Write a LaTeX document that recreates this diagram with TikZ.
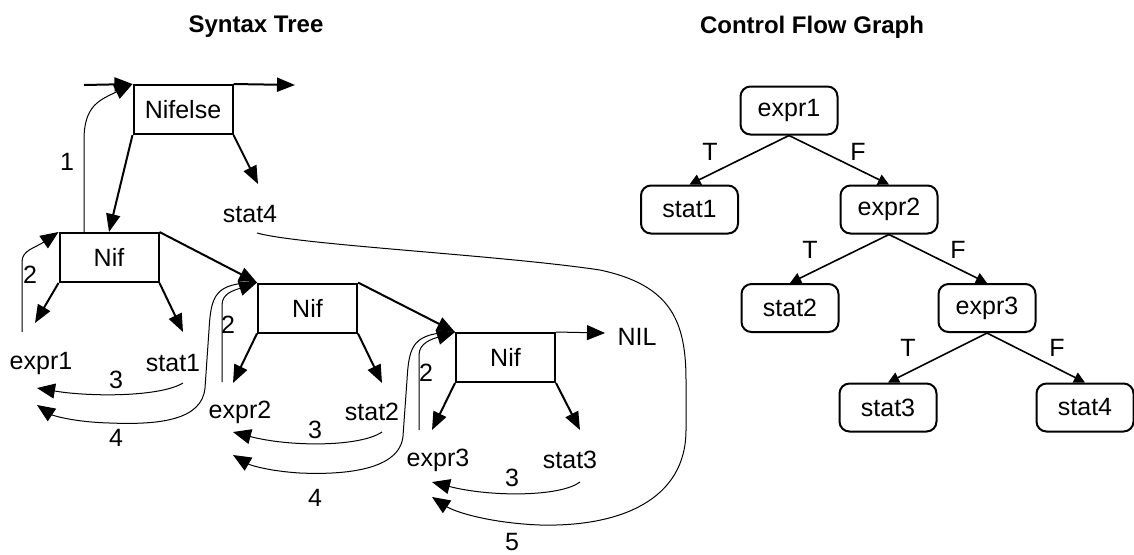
\documentclass[tikz,border=0pt]{standalone}
\usepackage{fontspec}
\setmainfont{Liberation Sans}
\usetikzlibrary{arrows.meta}

\tikzset{
    every node/.style={font=\fontsize{12.5}{14}\selectfont},
    title/.style={font=\fontsize{12}{14}\selectfont\bfseries},
    astbox/.style={draw, line width=1pt, minimum width=49.5pt, minimum height=24.5pt, inner sep=0pt},
    cfgbox/.style={draw, line width=1pt, rounded corners=5pt, minimum width=48.5pt, minimum height=24pt, inner sep=0pt},
    child/.style={line width=1pt, -{Triangle[length=9pt, width=7pt]}},
    walk/.style={line width=0.5pt, -{Triangle[length=9pt, width=7.5pt]}},
    branch/.style={line width=0.8pt, -{Triangle[length=5.5pt, width=5.5pt]}}
}

\begin{document}
\begin{tikzpicture}[x=0.5pt, y=-0.5pt]
        \useasboundingbox (0, 0) rectangle (1134, 554);

        \node[title] (ttree) at (256, 27) {Syntax Tree};
        \node[title] (tcfg) at (812, 27) {Control Flow Graph};

        \node[astbox] (nifelse) at (183, 109.5) {Nifelse};
        \node[astbox] (nif1) at (109, 257.5) {Nif};
        \node[astbox] (nif2) at (307.5, 308) {Nif};
        \node[astbox] (nif3) at (505.5, 357.5) {Nif};

        \node (stat4t) at (250, 214) {stat4};
        \node (expr1t) at (41, 363) {expr1};
        \node (stat1t) at (173, 363) {stat1};
        \node (expr2t) at (240, 412) {expr2};
        \node (stat2t) at (372, 412) {stat2};
        \node (expr3t) at (438, 460) {expr3};
        \node (stat3t) at (570, 460) {stat3};
        \node (nil) at (637, 337) {NIL};

        \coordinate (in) at (84, 85);
        \coordinate (out) at (295, 85);
        \coordinate (s4tip) at (258, 184);
        \coordinate (e1tip) at (35, 323);
        \coordinate (s1tip) at (183, 332);
        \coordinate (e2tip) at (233, 383);
        \coordinate (s2tip) at (382, 383);
        \coordinate (e3tip) at (432, 430);
        \coordinate (s3tip) at (580, 430);
        \coordinate (niltip) at (605, 333);

        \draw[child] (in) -- (nifelse.north west);
        \draw[child] (nifelse.north east) -- (out);
        \draw[child] (nifelse.south west) -- (nif1.north);
        \draw[child] (nifelse.south east) -- (s4tip);
        \draw[child] (nif1.south west) -- (e1tip);
        \draw[child] (nif1.south east) -- (s1tip);
        \draw[child] (nif1.north east) -- (nif2.north west);
        \draw[child] (nif2.south west) -- (e2tip);
        \draw[child] (nif2.south east) -- (s2tip);
        \draw[child] (nif2.north east) -- (nif3.north west);
        \draw[child] (nif3.south west) -- (e3tip);
        \draw[child] (nif3.south east) -- (s3tip);
        \draw[walk] (nif3.north east) -- (niltip);

        \coordinate (w1) at (84, 233);
        \coordinate (w2a) at (22, 332);
        \coordinate (w2b) at (222, 382);
        \coordinate (w2c) at (419, 430);
        \coordinate (w3a) at (183, 383);
        \coordinate (w3b) at (382, 432);
        \coordinate (w3c) at (580, 482);
        \coordinate (w5) at (257, 233);
        \coordinate (e1a) at (37, 388);
        \coordinate (e1b) at (37, 405);
        \coordinate (e2a) at (233, 432);
        \coordinate (e2b) at (233, 455);
        \coordinate (e3a) at (432, 482);
        \coordinate (e3b) at (432, 497);

        \draw[walk] (w1) -- (84, 140) .. controls (84, 105) and (100, 100) .. (nifelse.north west);
        \draw[walk] (w2a) -- (22, 262) .. controls (22, 250) and (35, 248) .. (nif1.north west);
        \draw[walk] (w2b) -- (222, 305) .. controls (222, 293) and (235, 290) .. (nif2.north west);
        \draw[walk] (w2c) -- (419, 355) .. controls (419, 343) and (432, 339) .. (nif3.north west);
        \draw[walk] (w3a) .. controls (160, 397) and (90, 397) .. (e1a);
        \draw[walk] (w3b) .. controls (360, 447) and (290, 447) .. (e2a);
        \draw[walk] (w3c) .. controls (560, 497) and (490, 497) .. (e3a);
        \draw[walk] (nif2.north west) .. controls (215, 283) and (211, 295) .. (209, 330) -- (205, 388)
            .. controls (202, 420) and (160, 425) .. (110, 423) .. controls (72, 422) and (52, 415) .. (e1b);
        \draw[walk] (nif3.north west) .. controls (413, 333) and (409, 345) .. (407, 380) -- (403, 436)
            .. controls (400, 470) and (345, 475) .. (300, 473) .. controls (268, 471) and (250, 465) .. (e2b);
        \draw[walk] (w5) .. controls (300, 245) and (500, 255) .. (600, 270) .. controls (670, 285) and (686, 320) .. (686, 380)
            -- (686, 430) .. controls (686, 500) and (620, 527) .. (540, 525) .. controls (490, 523) and (455, 512) .. (e3b);

        \node (n1) at (67, 162) {1};
        \node[inner sep=0pt] (n2a) at (30, 275) {2};
        \node[inner sep=0pt] (n2b) at (228, 325) {2};
        \node[inner sep=0pt] (n2c) at (426, 373) {2};
        \node (n3a) at (116, 380) {3};
        \node (n3b) at (315, 430) {3};
        \node (n3c) at (512, 478) {3};
        \node (n4a) at (116, 438) {4};
        \node (n4b) at (315, 498) {4};
        \node[inner sep=0pt] (n5) at (512, 542) {5};

        \node[cfgbox] (x1) at (789, 110.5) {expr1};
        \node[cfgbox] (s1) at (689.5, 209.5) {stat1};
        \node[cfgbox] (x2) at (889, 209.5) {expr2};
        \node[cfgbox] (s2) at (790, 308) {stat2};
        \node[cfgbox] (x3) at (987, 308) {expr3};
        \node[cfgbox] (s3) at (888, 407.5) {stat3};
        \node[cfgbox] (s4) at (1085, 407.5) {stat4};

        \draw[branch] (x1.south) -- (s1.north);
        \draw[branch] (x1.south) -- (x2.north);
        \draw[branch] (x2.south) -- (s2.north);
        \draw[branch] (x2.south) -- (x3.north);
        \draw[branch] (x3.south) -- (s3.north);
        \draw[branch] (x3.south) -- (s4.north);

        \node (t1) at (710, 152) {T};
        \node (f1) at (858, 152) {F};
        \node (t2) at (810, 250) {T};
        \node (f2) at (958, 250) {F};
        \node (t3) at (908, 348) {T};
        \node (f3) at (1057, 348) {F};

    \end{tikzpicture}
\end{document}
